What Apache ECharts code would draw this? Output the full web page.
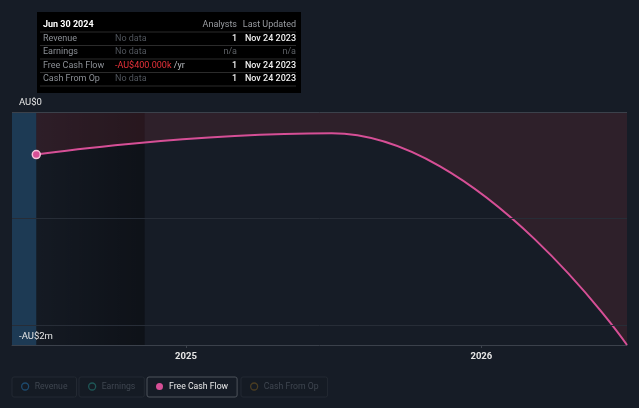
<!DOCTYPE html>
<html>
<head>
<meta charset="utf-8">
<script src="https://cdn.jsdelivr.net/npm/echarts@6/dist/echarts.min.js"></script>
<style>html,body{margin:0;padding:0;background:#161c26;}#c{width:639px;height:408px;}</style>
</head>
<body>
<div id="c"></div>
<script>
// ---- data ----
const fcfDates = ['2024-06-30', '2025-06-30', '2026-06-30'];
const fcfValues = [-400000, -200000, -2190000];
const xAxisMin = '2024-05-31';
const xAxisMax = '2026-06-30';
const nowDate = '2024-11-11';
const xTickDates = ['2025-01-01', '2026-01-01'];
const yMin = -2190000;
const yMax = 0;
const yGridValues = [0, -1000000, -2000000];
const yLabelTexts = ['AU$0', '', '-AU$2m'];
const legendNames = ['Revenue', 'Earnings', 'Free Cash Flow', 'Cash From Op'];
const legendIconColors = ['#1d4a6e', '#1e5656', '#d64f96', '#4b3d22'];
const tableHeader = ['Jun 30 2024', 'Analysts', 'Last Updated'];
const tableRows = [
  ['Revenue', 'No data', '1', 'Nov 24 2023'],
  ['Earnings', 'No data', 'n/a', 'n/a'],
  ['Free Cash Flow', '-AU$400.000k', '1', 'Nov 24 2023'],
  ['Cash From Op', 'No data', '1', 'Nov 24 2023']
];

const chart = echarts.init(document.getElementById('c'));
const pd = s => echarts.number.parseDate(s).getTime();
const FONT = 'Roboto, "Noto Sans", sans-serif';

// ---- table (info box) ----
const graphic = [];
graphic.push({type: 'rect', shape: {x: 37, y: 12, width: 264, height: 81}, style: {fill: '#000000'}, z: 100});
const colX = [43, 115, 237, 296];
const rowY0 = 25, rowH = 13.5;
graphic.push({type: 'text', x: colX[0], y: rowY0, z: 101, style: {text: tableHeader[0], fill: '#ffffff', font: 'bold 9px ' + FONT, textVerticalAlign: 'middle'}});
graphic.push({type: 'text', x: colX[2], y: rowY0, z: 101, style: {text: tableHeader[1], fill: '#9a9da2', font: '9px ' + FONT, textAlign: 'right', textVerticalAlign: 'middle'}});
graphic.push({type: 'text', x: colX[3], y: rowY0, z: 101, style: {text: tableHeader[2], fill: '#9a9da2', font: '9px ' + FONT, textAlign: 'right', textVerticalAlign: 'middle'}});
for (let i = 0; i <= tableRows.length; i++) {
  const ly = rowY0 + 7 + i * rowH;
  graphic.push({type: 'line', z: 101, shape: {x1: 40, y1: ly, x2: 296, y2: ly}, style: {stroke: '#2b2b2b', lineWidth: 1}});
}
tableRows.forEach((r, i) => {
  const y = rowY0 + (i + 1) * rowH;
  graphic.push({type: 'text', x: colX[0], y: y, z: 101, style: {text: r[0], fill: '#8c9096', font: '9px ' + FONT, textVerticalAlign: 'middle'}});
  if (r[1].indexOf('AU$') >= 0) {
    graphic.push({type: 'text', x: colX[1], y: y, z: 101, style: {text: '{r|' + r[1] + '} {u|/yr}', font: '9px ' + FONT, textVerticalAlign: 'middle',
      rich: {r: {fill: '#e8323a', font: '9px ' + FONT}, u: {fill: '#b9bcc0', font: '9px ' + FONT}}}});
  } else {
    graphic.push({type: 'text', x: colX[1], y: y, z: 101, style: {text: r[1], fill: '#50555c', font: '9px ' + FONT, textVerticalAlign: 'middle'}});
  }
  const dim = r[2] === 'n/a';
  graphic.push({type: 'text', x: colX[2], y: y, z: 101, style: {text: r[2], fill: dim ? '#5d6166' : '#f0f0f0', font: (dim ? '' : '500 ') + '9px ' + FONT, textAlign: 'right', textVerticalAlign: 'middle'}});
  graphic.push({type: 'text', x: colX[3], y: y, z: 101, style: {text: r[3], fill: dim ? '#5d6166' : '#f0f0f0', font: (dim ? '' : '500 ') + '9px ' + FONT, textAlign: 'right', textVerticalAlign: 'middle'}});
});

// ---- legends (one boxed legend per item) ----
const legendLefts = [12, 79, 147, 241];
const legends = legendNames.map((name, i) => {
  const active = name === 'Free Cash Flow';
  return {
    data: [{name: name, icon: 'circle', itemStyle: active ? {color: legendIconColors[i], borderWidth: 0} : {color: 'rgba(0,0,0,0)', borderColor: legendIconColors[i], borderWidth: 1.3}}],
    left: legendLefts[i], top: 377,
    orient: 'horizontal', selectedMode: false,
    itemWidth: 7, itemHeight: 7, itemGap: 0,
    padding: [5, 9, 6, 9],
    borderColor: active ? '#4d535b' : '#232932', borderWidth: 1, borderRadius: 2,
    backgroundColor: active ? '#161c26' : '#151b24',
    textStyle: {color: active ? '#eaeaea' : '#3f4650', fontSize: 8.7, fontFamily: FONT, padding: [0, 0, 0, 1]}
  };
});

const gridLineData = yGridValues.map((v, i) => {
  const item = {yAxis: v, lineStyle: {color: i === 0 ? '#3b414b' : '#272d37', width: 1, type: 'solid'}};
  if (yLabelTexts[i]) {
    item.label = {show: true, formatter: yLabelTexts[i], position: i === 0 ? 'insideStartTop' : 'insideStartBottom',
      color: '#e6e6e6', fontSize: 9.5, fontFamily: FONT, distance: i === 0 ? [7, 4] : [7, 7]};
  } else {
    item.label = {show: false};
  }
  return item;
});

const fcfData = fcfDates.map((d, i) => [pd(d), fcfValues[i]]);

const option = {
  animation: false,
  backgroundColor: '#161c26',
  textStyle: {fontFamily: FONT},
  graphic: graphic,
  legend: legends,
  grid: {left: 12, right: 12, top: 112, bottom: 63},
  xAxis: {
    type: 'value', min: pd(xAxisMin), max: pd(xAxisMax),
    axisLine: {show: true, onZero: false, lineStyle: {color: '#3b414b', width: 1}},
    axisTick: {show: true, customValues: xTickDates.map(pd), length: 3, lineStyle: {color: '#3b414b'}},
    axisLabel: {customValues: xTickDates.map(pd), formatter: v => String(new Date(v).getFullYear()),
      color: '#e6e6e6', fontSize: 9.5, fontWeight: 'bold', fontFamily: FONT, margin: 7},
    splitLine: {show: false}
  },
  yAxis: {
    type: 'value', min: yMin, max: yMax,
    axisLine: {show: false}, axisTick: {show: false}, axisLabel: {show: false}, splitLine: {show: false}
  },
  series: [
    {
      name: 'bands', type: 'line', data: [], z: 1, silent: true,
      markArea: {silent: true, itemStyle: {color: '#1d3a54'}, data: [[{xAxis: pd(xAxisMin)}, {xAxis: pd(fcfDates[0])}]]},
      markLine: {silent: true, symbol: 'none', animation: false, data: gridLineData}
    },
    {
      name: 'fcfArea', type: 'line', data: fcfData, z: 2, silent: true,
      smooth: 0.5, smoothMonotone: 'x', showSymbol: false, symbol: 'none',
      lineStyle: {width: 0, opacity: 0},
      areaStyle: {color: 'rgba(200,55,70,0.2)'}
    },
    {
      name: 'overlay', type: 'line', data: [], z: 3, silent: true,
      markArea: {silent: true, itemStyle: {color: {type: 'linear', x: 0, y: 0, x2: 1, y2: 0,
        colorStops: [{offset: 0, color: 'rgba(0,0,0,0.08)'}, {offset: 1, color: 'rgba(0,0,0,0.38)'}]}},
        data: [[{xAxis: pd(fcfDates[0])}, {xAxis: pd(nowDate)}]]}
    },
    {
      name: 'Free Cash Flow', type: 'line', data: fcfData, z: 4,
      smooth: 0.5, smoothMonotone: 'x',
      symbol: (val, p) => p.dataIndex === 0 ? 'circle' : 'none', symbolSize: 8,
      showSymbol: true,
      itemStyle: {color: '#d64f96', borderColor: '#f2c4da', borderWidth: 1.5},
      lineStyle: {color: '#d64f96', width: 2}
    },
    {name: 'Revenue', type: 'line', data: [], itemStyle: {color: legendIconColors[0]}},
    {name: 'Earnings', type: 'line', data: [], itemStyle: {color: legendIconColors[1]}},
    {name: 'Cash From Op', type: 'line', data: [], itemStyle: {color: legendIconColors[3]}}
  ]
};
chart.setOption(option);
</script>
</body>
</html>
